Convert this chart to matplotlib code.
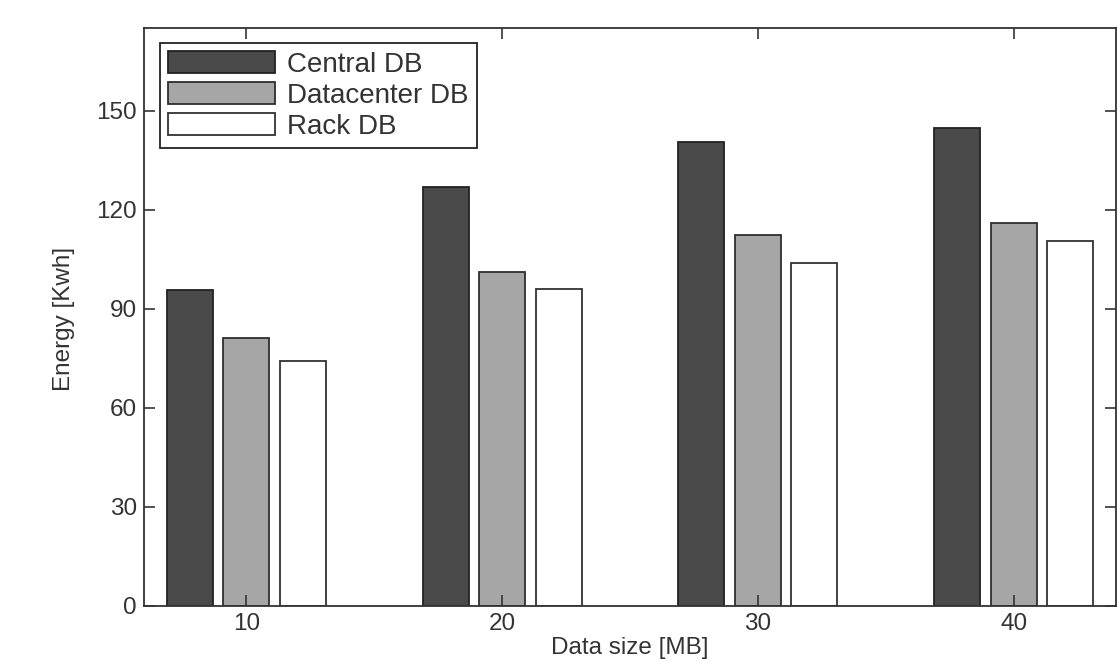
import numpy as np
import matplotlib.pyplot as plt

plt.rcParams['font.family'] = ['Liberation Sans', 'DejaVu Sans']

data_size = [10, 20, 30, 40]
central_db = [95.6, 127.0, 140.6, 144.8]
datacenter_db = [81.0, 101.2, 112.2, 116.0]
rack_db = [74.1, 95.9, 104.0, 110.4]

fig = plt.figure(figsize=(11.17, 6.65), dpi=100)
# axes box: x 144..1116 px, y 28..606 px
ax = fig.add_axes([144 / 1117, 59 / 665, 972 / 1117, 578 / 665])

x = np.array(data_size, dtype=float)
w = 1.8
off = 2.21
ax.bar(x - off, central_db, w, color='#4a4a4a', edgecolor='#222222', lw=1.3, label='Central DB')
ax.bar(x, datacenter_db, w, color='#a6a6a6', edgecolor='#2e2e2e', lw=1.3, label='Datacenter DB')
ax.bar(x + off, rack_db, w, color='white', edgecolor='#333333', lw=1.3, label='Rack DB')

ax.set_xlim(6.0, 44.0)
ax.set_ylim(0, 175)
ax.set_xticks(data_size)
ax.set_yticks([0, 30, 60, 90, 120, 150])
ax.tick_params(direction='in', top=True, right=True, length=8, width=1.2,
               color='#333333', labelsize=17.5, labelcolor='#333333', pad=5)
for s in ax.spines.values():
    s.set_color('#333333')
    s.set_linewidth(1.3)

ax.set_ylabel('Energy [Kwh]', fontsize=17.5, color='#333333')
ax.yaxis.set_label_coords(-0.071, 0.497)
# reference crops this label at the bottom edge; keep it just inside
ax.set_xlabel('Data size [MB]', fontsize=17.5, color='#333333')
ax.xaxis.set_label_coords(0.5, -0.053)

leg = ax.legend(loc='upper left', bbox_to_anchor=(16 / 972, 1 - 15 / 578), fontsize=20,
                handlelength=3.85, handleheight=0.8, handletextpad=0.43,
                labelspacing=0.17, borderpad=0.3, borderaxespad=0,
                fancybox=False, framealpha=1)
leg.get_frame().set_edgecolor('#222222')
leg.get_frame().set_linewidth(1.3)
for t in leg.get_texts():
    t.set_color('#333333')

fig.savefig('out.png', dpi=100)
